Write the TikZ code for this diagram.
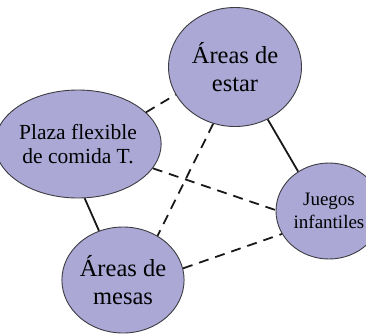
\documentclass[tikz,border=0pt]{standalone}
\usepackage{fontspec}
\setmainfont{Liberation Serif}
\usetikzlibrary{shapes.geometric}
\definecolor{areafill}{RGB}{171,168,214}
\definecolor{areaedge}{RGB}{60,60,66}
\begin{document}
\begin{tikzpicture}[x=1pt, y=-1pt,
    every node/.style={align=center},
    area/.style   ={draw=areaedge, line width=0.9pt, ellipse, fill=areafill,
                    inner sep=0pt},
    bigtext/.style={font=\fontsize{24.5}{28}\selectfont},
    midtext/.style={font=\fontsize{21.5}{24}\selectfont},
    smalltext/.style={font=\fontsize{19}{23}\selectfont},
    link/.style={line width=1.8pt, black!90},
    dlink/.style={link, dash pattern=on 10pt off 7pt}
]
\useasboundingbox (0,0) rectangle (366,335);
\node[area, bigtext, minimum width=133pt, minimum height=119pt] (estar)  at (235, 67)  {Áreas de\\estar};
\node[area, midtext, minimum width=120pt, minimum height=108pt] (plaza)  at ( 78,144)  {Plaza flexible\\de comida T.};
\node[area, smalltext, minimum width=106pt, minimum height=96pt] (juegos) at (329,211)  {Juegos\\infantiles};
\node[area, bigtext, minimum width=120pt, minimum height=106pt] (mesas)  at (123,280)  {Áreas de\\mesas};

\draw[link]  (estar.302)  -- (juegos.128);
\draw[link]  (plaza.277)  -- (mesas.116);
\draw[dlink] (plaza.25)   -- (estar.205);
\draw[dlink] (plaza.342)  -- (juegos.179);
\draw[dlink] (estar.249)  -- (mesas.52);
\draw[dlink] (mesas.11)   -- (juegos.206);
\end{tikzpicture}
\end{document}
